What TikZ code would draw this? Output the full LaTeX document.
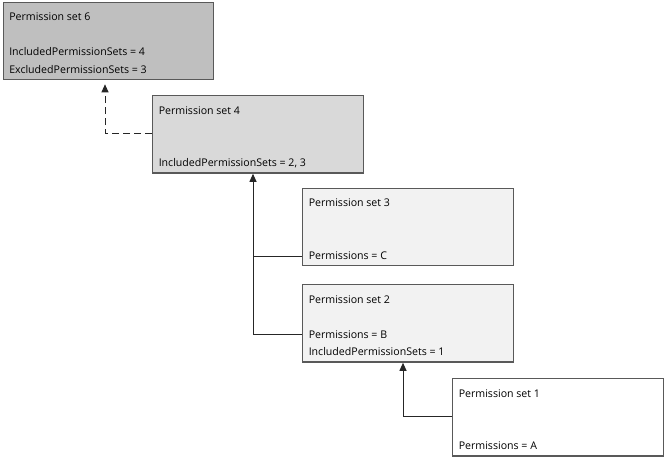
\documentclass[tikz,border=0pt]{standalone}
\usepackage{fontspec}
\setmainfont{Open Sans}
\usetikzlibrary{arrows.meta,calc}
\definecolor{boxline}{HTML}{595959}
\definecolor{connline}{HTML}{262626}
\definecolor{fillA}{HTML}{BFBFBF}
\definecolor{fillB}{HTML}{D9D9D9}
\definecolor{fillC}{HTML}{F2F2F2}
\begin{document}
\begin{tikzpicture}[x=0.75pt,y=-0.75pt,
  box/.style={draw=boxline, line width=1pt, minimum width=157.9pt, minimum height=58.1pt, inner sep=0pt, anchor=north west},
  txt/.style={anchor=base west, inner sep=0pt, font=\fontsize{7.95}{10}\selectfont, text=black},
  conn/.style={draw=connline, line width=0.75pt},
  tip/.style={-{Triangle[width=5.25pt,length=6pt]}}]
\useasboundingbox (0,0) rectangle (664,461);

% boxes
\node[box, fill=fillA] (p6) at (2.5,1.5) {};
\node[box, fill=fillB] (p4) at (152,95) {};
\node[box, fill=fillC] (p3) at (302,187.5) {};
\node[box, fill=fillC] (p2) at (302,284) {};
\node[box, fill=white] (p1) at (452,378) {};

% texts
\node[txt] (p6a) at ($(p6.north west)+(6.5,19)$) {Permission set 6};
\node[txt] (p6b) at ($(p6.north west)+(6.5,54)$) {IncludedPermissionSets = 4};
\node[txt] (p6c) at ($(p6.north west)+(6.5,71.5)$) {ExcludedPermissionSets = 3};

\node[txt] (p4a) at ($(p4.north west)+(6.5,19)$) {Permission set 4};
\node[txt] (p4b) at ($(p4.north west)+(6.5,71.5)$) {IncludedPermissionSets = 2, 3};

\node[txt] (p3a) at ($(p3.north west)+(6.5,19)$) {Permission set 3};
\node[txt] (p3b) at ($(p3.north west)+(6.5,71.5)$) {Permissions = C};

\node[txt] (p2a) at ($(p2.north west)+(6.5,19)$) {Permission set 2};
\node[txt] (p2b) at ($(p2.north west)+(6.5,54)$) {Permissions = B};
\node[txt] (p2c) at ($(p2.north west)+(6.5,71.5)$) {IncludedPermissionSets = 1};

\node[txt] (p1a) at ($(p1.north west)+(6.5,19)$) {Permission set 1};
\node[txt] (p1b) at ($(p1.north west)+(6.5,71.5)$) {Permissions = A};

% connectors
\draw[conn, tip, shorten >=3pt, dash pattern=on 5.25pt off 3pt] ($(p4.north west)+(0,38)$) -| ($(p6.south west)+(102.5,0)$);
\draw[conn, tip] ($(p2.north west)+(0,50)$) -| ($(p4.south west)+(101,0)$);
\draw[conn] ($(p3.north west)+(0,68.5)$) -| ($(p4.south west)+(101,90)$);
\draw[conn, tip] ($(p1.north west)+(0,38.5)$) -| ($(p2.south west)+(101,0)$);
\end{tikzpicture}
\end{document}
